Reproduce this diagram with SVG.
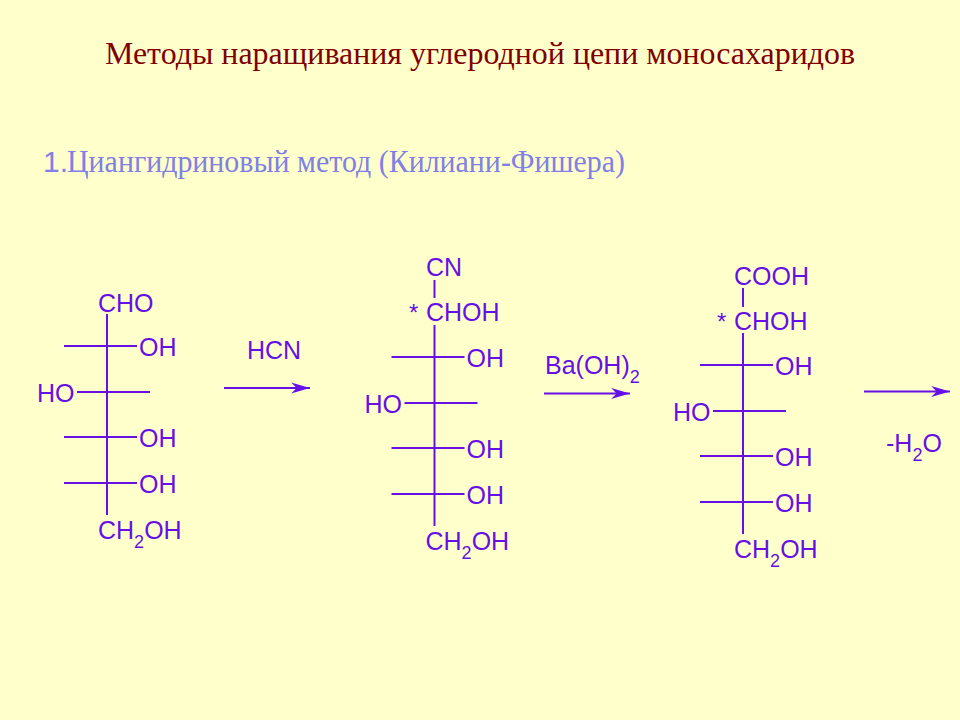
<svg xmlns="http://www.w3.org/2000/svg" width="960" height="720" viewBox="0 0 960 720">
<style>
.c{font-family:"Liberation Sans",Arial,sans-serif;font-size:25px;fill:#6610e6}
.s{font-size:18px}
.r{font-size:24px}
.b{stroke:#6610e6;stroke-width:2;fill:none}
.a{stroke:#6610e6;stroke-width:2;fill:none;marker-end:url(#h)}
.t{font-family:"Liberation Serif","Times New Roman",serif;font-size:31px;fill:#800000}
.u{font-family:"Liberation Serif","Times New Roman",serif;font-size:31px;fill:#8080e6}
.n{font-family:"Liberation Sans",Arial,sans-serif;font-size:30px;fill:#8080e6}
</style>
<defs>
<marker id="h" markerUnits="userSpaceOnUse" markerWidth="20" markerHeight="12" refX="17" refY="5" orient="auto" viewBox="0 0 18 10" overflow="visible"><path d="M0 0L17 5L0 10L5 5Z" fill="#6610e6"/></marker>
<g id="chain">
<path class="b" d="M0 0V201M-43 32H30M-30 78H43M-43 123H30M-43 169H30"/>
<text class="c" x="32" y="42">OH</text>
<text class="c" x="-70" y="88">HO</text>
<text class="c" x="32" y="133">OH</text>
<text class="c" x="32" y="179">OH</text>
<text class="c" x="-9" y="225">CH<tspan class="s" dy="9">2</tspan><tspan dy="-9">OH</tspan></text>
</g>
</defs>
<rect width="960" height="720" fill="#ffffcc"/>
<g id="title"><text class="t" x="105" y="64" textLength="750" lengthAdjust="spacingAndGlyphs">Методы наращивания углеродной цепи моносахаридов</text></g>
<g id="subtitle"><text class="n" x="43" y="172">1.</text><text class="u" x="67" y="172" textLength="558" lengthAdjust="spacingAndGlyphs">Циангидриновый метод (Килиани-Фишера)</text></g>
<g id="aldose">
<text class="c" x="98" y="312">CHO</text>
<use href="#chain" x="107" y="314"/>
</g>
<g id="cyanohydrin">
<text class="c" x="426" y="276">CN</text>
<text class="c r" x="409" y="321">*</text>
<text class="c" x="426" y="321">CHOH</text>
<path class="b" d="M434.500 280V298"/>
<use href="#chain" x="434.500" y="325"/>
</g>
<g id="acid">
<text class="c" x="734" y="285">COOH</text>
<text class="c r" x="717" y="330">*</text>
<text class="c" x="734" y="330">CHOH</text>
<path class="b" d="M743 288V307"/>
<use href="#chain" x="743" y="333"/>
</g>
<g id="connectors">
<path class="a" d="M224 388H310"/>
<path class="a" d="M544 393.500H630"/>
<path class="a" d="M864 391.500H950"/>
</g>
<g id="labels">
<text class="c" x="247" y="359">HCN</text>
<text class="c" x="545" y="374">Ba(OH)<tspan class="s" dy="9">2</tspan></text>
<text class="c" x="886" y="452">-H<tspan class="s" dy="9">2</tspan><tspan dy="-9">O</tspan></text>
</g>
</svg>
